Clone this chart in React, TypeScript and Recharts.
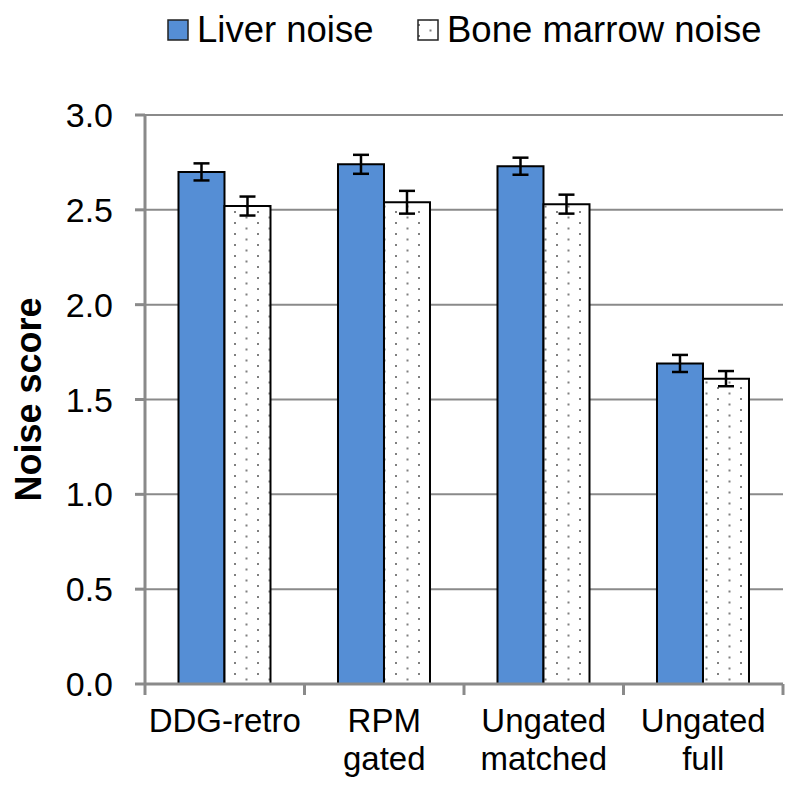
import React from "react";
import { BarChart, Bar, XAxis, YAxis, CartesianGrid, ErrorBar } from "recharts";

const categories = ["DDG-retro", "RPM\ngated", "Ungated\nmatched", "Ungated\nfull"];
const liverNoise = [2.70, 2.74, 2.73, 1.69];
const liverErr = [0.045, 0.05, 0.045, 0.045];
const boneNoise = [2.52, 2.54, 2.53, 1.61];
const boneErr = [0.05, 0.06, 0.05, 0.04];
const yTicks = [0, 0.5, 1.0, 1.5, 2.0, 2.5, 3.0];
const seriesNames = ["Liver noise", "Bone marrow noise"];

const data = categories.map((c, i) => ({
  name: c,
  liver: liverNoise[i],
  liverErr: liverErr[i],
  bone: boneNoise[i],
  boneErr: boneErr[i],
}));

const FONT = "'Liberation Sans', Arial, sans-serif";
const GRAY = "#8a8a8a";
const BLUE = "#558ED5";

const DotPattern = ({ id }: { id: string }) => (
  <pattern id={id} patternUnits="userSpaceOnUse" width={23} height={11}>
    <rect width={23} height={11} fill="#fff" />
    <rect x={4} y={2} width={2} height={2} fill="#808080" />
    <rect x={15.5} y={7.5} width={2} height={2} fill="#808080" />
  </pattern>
);

const XTick = (props: any) => {
  const { x, y, payload, width, visibleTicksCount, index } = props;
  const step = width / visibleTicksCount;
  const lines = String(payload.value).split("\n");
  const left = x - step / 2;
  const right = x + step / 2;
  return (
    <g>
      <line x1={left} y1={y} x2={left} y2={y + 11} stroke={GRAY} strokeWidth={3} />
      {index === visibleTicksCount - 1 && (
        <line x1={right} y1={y} x2={right} y2={y + 11} stroke={GRAY} strokeWidth={3} />
      )}
      <text x={x} y={y} textAnchor="middle" fontFamily={FONT} fontSize={33} fill="#000">
        {lines.map((l, i) => (
          <tspan key={i} x={x} y={y + 48 + i * 38}>
            {l}
          </tspan>
        ))}
      </text>
    </g>
  );
};

const YLabel = (props: any) => {
  const { viewBox } = props;
  const cy = viewBox.y + viewBox.height / 2;
  return (
    <text
      x={28}
      y={cy}
      transform={`rotate(-90, 28, ${cy})`}
      textAnchor="middle"
      dominantBaseline="central"
      fontFamily={FONT}
      fontSize={36}
      fontWeight="bold"
      fill="#000"
    >
      Noise score
    </text>
  );
};

export default function App() {
  return (
    <div style={{ position: "absolute", left: 0, top: 0, width: 800, height: 792, background: "#fff" }}>
      <svg width={800} height={60} style={{ position: "absolute", left: 0, top: 0 }}>
        <defs>
          <DotPattern id="dotsLegend" />
        </defs>
        <rect x={168} y={20} width={20} height={20} fill={BLUE} stroke="#222" strokeWidth={1.5} />
        <text x={197} y={42} fontFamily={FONT} fontSize={36.5} fill="#000">
          {seriesNames[0]}
        </text>
        <rect x={418} y={20} width={20} height={20} fill="url(#dotsLegend)" stroke="#222" strokeWidth={1.5} />
        <text x={447} y={42} fontFamily={FONT} fontSize={36.5} fill="#000">
          {seriesNames[1]}
        </text>
      </svg>
      <BarChart
        width={800}
        height={792}
        data={data}
        margin={{ top: 115, right: 17, bottom: 0, left: 0 }}
        barCategoryGap="21%"
        barGap={0}
      >
        <defs>
          <DotPattern id="dots" />
        </defs>
        <CartesianGrid vertical={false} stroke={GRAY} strokeWidth={2} />
        <XAxis
          dataKey="name"
          height={108}
          tickLine={false}
          tickSize={0}
          tickMargin={0}
          interval={0}
          axisLine={{ stroke: GRAY, strokeWidth: 3 }}
          tick={<XTick />}
        />
        <YAxis
          width={145}
          domain={[0, 3]}
          ticks={yTicks}
          interval={0}
          tickFormatter={(v: number) => v.toFixed(1)}
          tickSize={10}
          tickMargin={22}
          tickLine={{ stroke: GRAY, strokeWidth: 3 }}
          axisLine={{ stroke: GRAY, strokeWidth: 3 }}
          tick={{ fontFamily: FONT, fontSize: 34, fill: "#000" }}
          label={<YLabel />}
        />
        <Bar dataKey="liver" fill={BLUE} stroke="#000" strokeWidth={2} isAnimationActive={false}>
          <ErrorBar dataKey="liverErr" width={8} stroke="#000" strokeWidth={2.5} />
        </Bar>
        <Bar dataKey="bone" fill="url(#dots)" stroke="#000" strokeWidth={2} isAnimationActive={false}>
          <ErrorBar dataKey="boneErr" width={8} stroke="#000" strokeWidth={2.5} />
        </Bar>
      </BarChart>
    </div>
  );
}
